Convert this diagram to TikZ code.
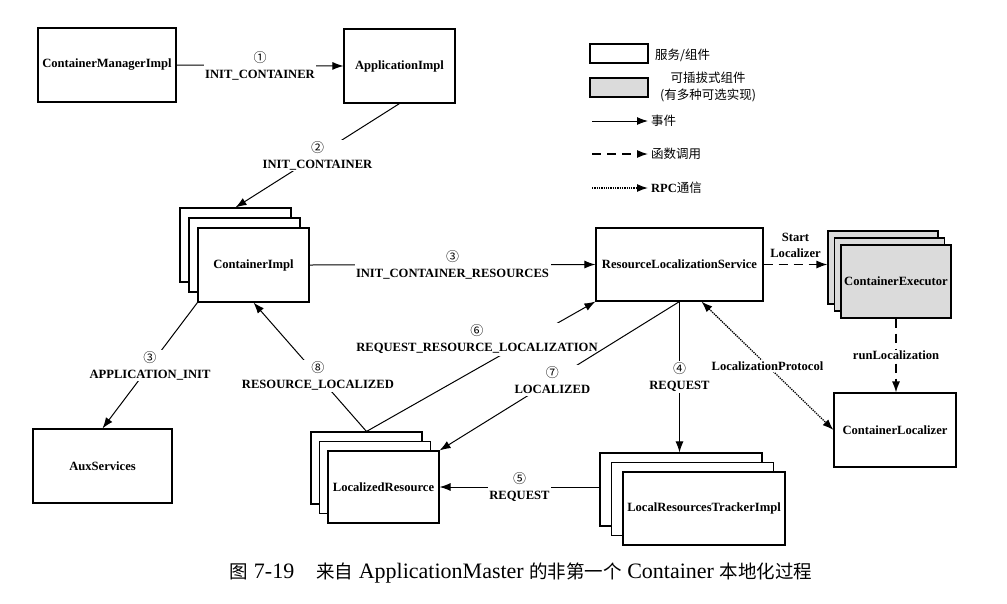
\documentclass[tikz,border=0pt]{standalone}
\usepackage{fontspec}
\setmainfont{Liberation Serif}
\newfontfamily\cjk{Noto Sans CJK SC}
\usetikzlibrary{arrows.meta,calc}

\newcommand\circnum[1]{{\cjk\mdseries\fontsize{13}{13}\selectfont #1}}
\newcommand\capcjk[1]{{\cjk\fontsize{18.5}{22}\selectfont #1}}

\tikzset{
  >={Latex[length=11pt,width=8pt]},
  comp/.style={draw, line width=1.1pt, fill=white, inner sep=0pt,
    font=\bfseries\fontsize{12.6}{15}\selectfont},
  plug/.style={comp, fill=gray!28},
  stdbox/.style={minimum width=111pt, minimum height=74pt},
  evt/.style={line width=1pt, ->},
  call/.style={line width=1.3pt, dash pattern=on 9pt off 6pt, ->},
  rpc/.style={line width=1.3pt, densely dotted},
  lbl/.style={fill=white, inner sep=1.5pt, align=center,
    font=\bfseries\fontsize{12.6}{16}\selectfont},
  cjktxt/.style={inner sep=3pt, align=center, font=\cjk\fontsize{12.5}{17}\selectfont},
}

\begin{document}
\begin{tikzpicture}[x=1pt,y=-1pt]
			%%%%% START %%%%%
			\useasboundingbox (0,0) rectangle (1007,603);

			\node[comp, minimum width=138pt, minimum height=74pt] (cmi) at (107,65) {ContainerManagerImpl};
			\node[comp, stdbox] (app) at (399.5,66) {ApplicationImpl};

			\node[comp, stdbox] (ci2) at (235.5,245) {};
			\node[comp, stdbox] (ci1) at (244.5,255) {};
			\node[comp, stdbox] (ci) at (253.5,265) {ContainerImpl};

			\node[comp, minimum width=167pt, minimum height=73pt] (rls) at (679.5,264.5) {ResourceLocalizationService};

			\node[plug, minimum width=110pt, minimum height=73pt] (ce2) at (883,267.5) {};
			\node[plug, minimum width=110pt, minimum height=73pt] (ce1) at (889.5,274.5) {};
			\node[plug, minimum width=110pt, minimum height=73pt] (ce) at (896,281.5) {ContainerExecutor};

			\node[comp, minimum width=122pt, minimum height=74pt] (cl) at (895,430) {ContainerLocalizer};
			\node[comp, minimum width=139pt, minimum height=74pt] (aux) at (102.5,466) {AuxServices};

			\node[comp, minimum width=111pt, minimum height=72pt] (lr2) at (366.5,468) {};
			\node[comp, minimum width=111pt, minimum height=72pt] (lr1) at (375,477.5) {};
			\node[comp, minimum width=111pt, minimum height=72pt] (lr) at (383.5,487) {LocalizedResource};

			\node[comp, minimum width=162pt, minimum height=73pt] (lrt2) at (681,489.5) {};
			\node[comp, minimum width=162pt, minimum height=73pt] (lrt1) at (692.5,499) {};
			\node[comp, minimum width=162pt, minimum height=73pt] (lrt) at (704,508.5) {LocalResourcesTrackerImpl};

			\draw[evt] (cmi.east) -- node[lbl] {\circnum{①}\\INIT\_CONTAINER} (app.west);
			\draw[evt] (app.south) -- node[lbl] {\circnum{②}\\INIT\_CONTAINER} (ci2.north);
			\draw[evt] (ci.east) -- node[lbl] {\circnum{③}\\INIT\_CONTAINER\_RESOURCES} (rls.west);
			\draw[evt] (ci.south west) -- node[lbl] {\circnum{③}\\APPLICATION\_INIT} (aux.north);
			\draw[evt] (lr2.north) -- node[lbl, pos=0.43] {\circnum{⑧}\\RESOURCE\_LOCALIZED} (ci.south);
			\draw[evt] (lr2.north) -- node[lbl, xshift=-4pt, yshift=27pt] {\circnum{⑥}\\REQUEST\_RESOURCE\_LOCALIZATION} (rls.south west);
			\draw[evt] (rls.south) -- node[lbl, pos=0.53] {\circnum{⑦}\\LOCALIZED} (lr.north east);
			\draw[evt] (rls.south) -- node[lbl] {\circnum{④}\\REQUEST} (rls.south |- lrt2.north);
			\draw[evt] (lr.east -| lrt2.west) -- node[lbl] {\circnum{⑤}\\REQUEST} (lr.east);

			\draw[call] (rls.east) -- node[lbl, above=5pt] {Start\\Localizer} (rls.east -| ce2.west);
			\draw[call] (ce.south) -- node[lbl] {runLocalization} (ce.south |- cl.north);

			\coordinate (rlsrpc) at ($(rls.south)+(22,0)$);
			\draw[rpc, <->] (rlsrpc) -- node[lbl] {LocalizationProtocol} (cl.west);

			\node[comp, minimum width=58pt, minimum height=19pt] (lgsvc) at (619,53.5) {};
			\node[cjktxt, anchor=west] (lgsvct) at (652,55) {服务/组件};
			\node[plug, minimum width=58pt, minimum height=19pt] (lgplug) at (619,87.5) {};
			\node[cjktxt] (lgplugt) at (708,87) {可插拔式组件\\(有多种可选实现)};

			\coordinate (lgev) at (592,121);
			\node[cjktxt, anchor=west] (lgevt) at (648,121) {事件};
			\draw[evt] (lgev) -- (lgevt.west);

			\coordinate (lgcall) at (592,154);
			\node[cjktxt, anchor=west] (lgcallt) at (648,154) {函数调用};
			\draw[call] (lgcall) -- (lgcallt.west);

			\coordinate (lgrpc) at (592,188);
			\node[cjktxt, anchor=west] (lgrpct) at (648,188) {{\rmfamily\bfseries RPC}通信};
			\draw[rpc, ->] (lgrpc) -- (lgrpct.west);

			\node[font=\fontsize{22}{26}\selectfont] (cap) at (521,573) {\capcjk{图} 7-19\quad\capcjk{来自} ApplicationMaster \capcjk{的非第一个} Container \capcjk{本地化过程}};
			%%%%% END %%%%%
\end{tikzpicture}
\end{document}
